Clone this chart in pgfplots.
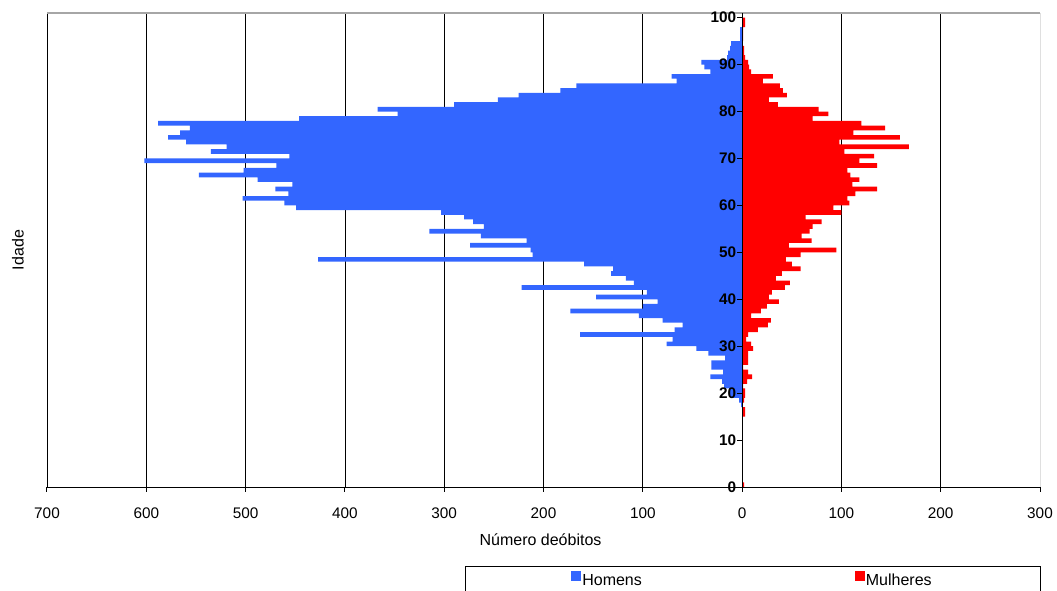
\documentclass[border=0pt]{standalone}
\usepackage{fontspec}
\setmainfont{Liberation Sans}
\usepackage{pgfplots}
\usepackage{pgfplotstable}
\pgfplotsset{compat=1.18}
\definecolor{hblue}{RGB}{51,102,255}
\definecolor{mred}{RGB}{255,0,0}

\pgfplotstableread{
age men women
0 0 2
1 0 0
2 0 0
3 0 0
4 0 0
5 0 0
6 0 0
7 0 0
8 0 0
9 0 0
10 0 0
11 0 0
12 0 0
13 0 0
14 0 0
15 0 3
16 0 3
17 -1 0
18 -3 2
19 -12 3
20 -13 3
21 -18 1
22 -20 5
23 -32 10
24 -19 6
25 -31 1
26 -31 6
27 -17 6
28 -34 6
29 -46 11
30 -76 9
31 -70 4
32 -163 6
33 -68 16
34 -60 26
35 -80 29
36 -104 9
37 -173 19
38 -100 25
39 -85 37
40 -147 27
41 -96 30
42 -222 43
43 -109 48
44 -117 34
45 -132 40
46 -130 59
47 -159 50
48 -427 44
49 -211 59
50 -213 95
51 -274 47
52 -217 70
53 -263 60
54 -315 68
55 -260 71
56 -271 80
57 -280 64
58 -303 100
59 -449 92
60 -461 108
61 -503 106
62 -457 114
63 -470 136
64 -453 111
65 -488 118
66 -547 109
67 -502 106
68 -469 136
69 -602 118
70 -456 133
71 -535 103
72 -519 168
73 -560 98
74 -578 159
75 -566 112
76 -556 144
77 -588 120
78 -446 71
79 -347 87
80 -367 77
81 -290 36
82 -246 27
83 -225 45
84 -183 41
85 -167 38
86 -66 21
87 -71 31
88 -32 9
89 -38 7
90 -41 6
91 -15 3
92 -14 2
93 -12 2
94 -11 0
95 -2 1
96 -2 1
97 -2 1
98 0 3
99 0 3
100 0 0
}\deaths

\begin{document}
\begin{tikzpicture}
\path[use as bounding box] (-35.25pt,-77.25pt) rectangle (757.5pt,365.25pt);
\begin{axis}[
  name=ax,
  axis on top,
  at={(0,0)}, anchor=south west,
  scale only axis,
  width=744.75pt, height=355.5pt,
  xmin=-700, xmax=300,
  ymin=0, ymax=101,
  axis x line*=bottom,
  axis y line*=middle,
  axis line style={-, black, line width=0.75pt},
  hide obscured x ticks=false,
  hide obscured y ticks=false,
  xtick={-700,-600,...,300},
  xticklabels={700,600,500,400,300,200,100,0,100,200,300},
  ytick={0,10,...,100},
  tick align=outside,
  major tick length=3.5pt,
  tick style={black, line width=0.75pt},
  ytick style={draw=none},
  /pgf/number format/assume math mode=true,
  tick label style={font=\fontsize{11.5}{13}\selectfont},
  xticklabel style={yshift=-8.5pt},
  yticklabel style={font=\fontsize{11.5}{13}\selectfont\bfseries, xshift=2.6pt},
  xlabel={Número deóbitos},
  xlabel style={at={(rel axis cs:0.497,0)}, anchor=center, yshift=-39.75pt, font=\fontsize{12}{14}\selectfont},
  ylabel={Idade},
  ylabel style={at={(rel axis cs:-0.0292,0.5)}, anchor=center, font=\fontsize{12}{14}\selectfont},
  xbar, bar width=1,
  legend columns=2,
  legend image code/.code={\fill[#1,draw=none] (0pt,-0.5pt) rectangle (7.5pt,7pt);},
  legend style={draw=none, fill=none,
    at={(rel axis cs:0.5274,-0.196)}, anchor=west,
    inner sep=0pt,
    nodes={inner sep=1pt, font=\fontsize{12}{14}\selectfont},
    /tikz/every even column/.append style={column sep=158.5pt}},
]
\draw[black, line width=0.6pt] (axis cs:-700,0) -- (axis cs:-700,101);
\draw[black, line width=0.6pt] (axis cs:-600,0) -- (axis cs:-600,101);
\draw[black, line width=0.6pt] (axis cs:-500,0) -- (axis cs:-500,101);
\draw[black, line width=0.6pt] (axis cs:-400,0) -- (axis cs:-400,101);
\draw[black, line width=0.6pt] (axis cs:-300,0) -- (axis cs:-300,101);
\draw[black, line width=0.6pt] (axis cs:-200,0) -- (axis cs:-200,101);
\draw[black, line width=0.6pt] (axis cs:-100,0) -- (axis cs:-100,101);
\draw[black, line width=0.6pt] (axis cs:100,0) -- (axis cs:100,101);
\draw[black, line width=0.6pt] (axis cs:200,0) -- (axis cs:200,101);
\draw[black, line width=0.6pt] (axis cs:300,0) -- (axis cs:300,101);
\addplot[fill=hblue, draw=none, bar shift=0pt] table[x=men, y expr=\thisrow{age}+0.5] {\deaths};
\addlegendentry{Homens}
\addplot[fill=mred, draw=none, bar shift=0pt] table[x=women, y expr=\thisrow{age}+0.5] {\deaths};
\addlegendentry{Mulheres}
\draw[gray!70, line width=1pt] (rel axis cs:0,1) -- (rel axis cs:1,1);
\draw[black, line width=0.75pt] (axis cs:0,0) -- ++(-3.5pt,0pt);
\draw[black, line width=0.75pt] (axis cs:0,10) -- ++(-3.5pt,0pt);
\draw[black, line width=0.75pt] (axis cs:0,20) -- ++(-3.5pt,0pt);
\draw[black, line width=0.75pt] (axis cs:0,30) -- ++(-3.5pt,0pt);
\draw[black, line width=0.75pt] (axis cs:0,40) -- ++(-3.5pt,0pt);
\draw[black, line width=0.75pt] (axis cs:0,50) -- ++(-3.5pt,0pt);
\draw[black, line width=0.75pt] (axis cs:0,60) -- ++(-3.5pt,0pt);
\draw[black, line width=0.75pt] (axis cs:0,70) -- ++(-3.5pt,0pt);
\draw[black, line width=0.75pt] (axis cs:0,80) -- ++(-3.5pt,0pt);
\draw[black, line width=0.75pt] (axis cs:0,90) -- ++(-3.5pt,0pt);
\draw[black, line width=0.75pt] (axis cs:0,100) -- ++(-3.5pt,0pt);
\end{axis}
\draw[black, line width=0.6pt] ([xshift=313.5pt,yshift=-59.25pt]ax.south west) rectangle ([xshift=744.75pt,yshift=-100pt]ax.south west);
\end{tikzpicture}
\end{document}
